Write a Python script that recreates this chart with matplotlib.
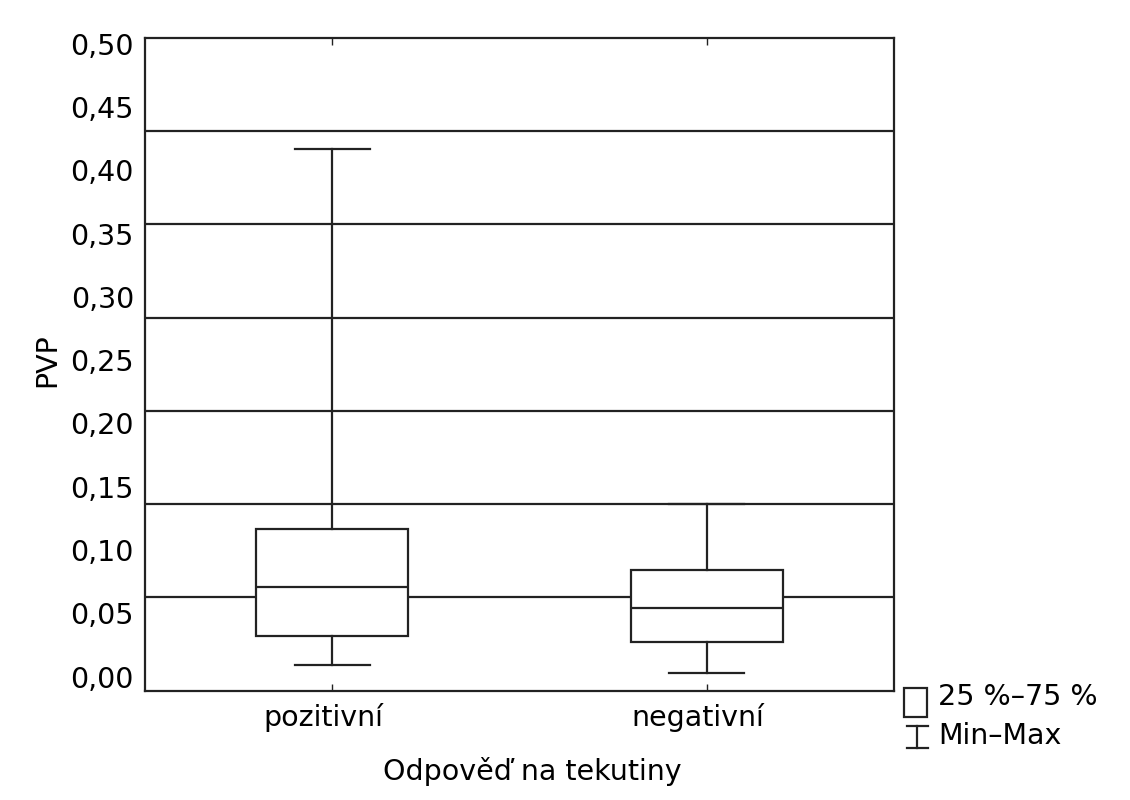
import matplotlib
matplotlib.use("Agg")
import matplotlib.pyplot as plt
from matplotlib.patches import Rectangle
from matplotlib.lines import Line2D
from matplotlib.transforms import ScaledTranslation

# ---- data ----
categories = ["pozitivní", "negativní"]
mins = [0.0095, 0.003]
q1s = [0.032, 0.0276]
medians = [0.071, 0.0545]
q3s = [0.117, 0.084]
maxs = [0.417, 0.136]
ytick_values = [0.00, 0.05, 0.10, 0.15, 0.20, 0.25, 0.30, 0.35, 0.40, 0.45, 0.50]
ytick_labels = [f"{v:.2f}".replace(".", ",") for v in ytick_values]
xlabel = "Odpověď na tekutiny"
ylabel = "PVP"
legend_labels = ["25 %–75 %", "Min–Max"]

plt.rcParams["font.family"] = ["DejaVu Sans"]
FS = 20.5
LC = "#222222"
LW = 1.6

fig = plt.figure(figsize=(11.3, 8), dpi=100)
W, H = 1130, 800
ax = fig.add_axes([145 / W, 1 - 690.7 / H, (894 - 145) / W, (690.7 - 37.7) / H])

y0, y1 = -0.0111, 0.5047
ax.set_ylim(y0, y1)
ax.set_xlim(0.5, 2.5)

# gridlines (7 equal divisions of the frame)
for k in range(1, 7):
    ax.axhline(y0 + k * (y1 - y0) / 7, color=LC, lw=LW, zorder=1)

stats = []
for lab, lo, a, m, b, hi in zip(categories, mins, q1s, medians, q3s, maxs):
    stats.append(dict(label=lab, whislo=lo, q1=a, med=m, q3=b, whishi=hi, fliers=[]))

ax.bxp(stats, positions=[1, 2], widths=0.405, capwidths=0.2, patch_artist=True,
       showfliers=False,
       boxprops=dict(facecolor="white", edgecolor=LC, linewidth=LW),
       medianprops=dict(color=LC, linewidth=LW),
       whiskerprops=dict(color=LC, linewidth=LW),
       capprops=dict(color=LC, linewidth=LW),
       zorder=3)

ax.set_xticks([1, 2])
ax.set_xticklabels(categories, fontsize=FS)
ax.set_yticks(ytick_values)
ax.set_yticklabels(ytick_labels, fontsize=FS)
ax.tick_params(axis="x", direction="in", length=5, width=1, color=LC, pad=9,
               top=True, bottom=True)
ax.tick_params(axis="y", length=0, pad=8)
shift = ScaledTranslation(-9 / 100, 0, fig.dpi_scale_trans)
for lbl in ax.get_xticklabels():
    lbl.set_transform(lbl.get_transform() + shift)
for s in ax.spines.values():
    s.set_color(LC)
    s.set_linewidth(LW)

ax.set_xlabel(xlabel, fontsize=FS, va="center")
ax.xaxis.set_label_coords((532 - 145) / 749, (690.7 - 771) / 653)
ax.set_ylabel(ylabel, fontsize=FS, va="center")
ax.yaxis.set_label_coords((47 - 145) / 749, (690.7 - 360) / 653)

# legend (drawn manually, outside the axes at the lower right)
fig.patches.append(Rectangle((904 / W, 1 - 717 / H), 23 / W, 29 / H,
                             transform=fig.transFigure, fill=False,
                             edgecolor=LC, linewidth=LW))
fig.text(938 / W, 1 - 697 / H, legend_labels[0], fontsize=FS, va="center", ha="left")
xc = 917 / W
fig.lines.append(Line2D([xc, xc], [1 - 726 / H, 1 - 748 / H], transform=fig.transFigure,
                        color=LC, linewidth=LW))
for yy in (726, 748):
    fig.lines.append(Line2D([907 / W, 928 / W], [1 - yy / H, 1 - yy / H],
                            transform=fig.transFigure, color=LC, linewidth=LW))
fig.text(938 / W, 1 - 736 / H, legend_labels[1], fontsize=FS, va="center", ha="left")

fig.savefig("out.png", dpi=100, facecolor="white")
